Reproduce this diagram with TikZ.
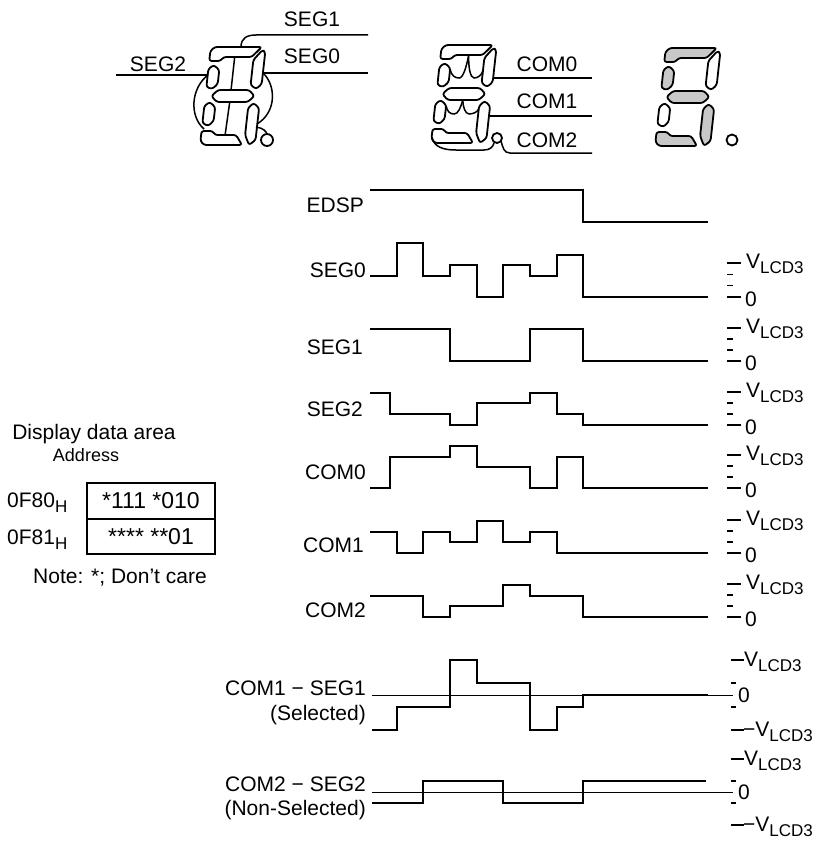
\documentclass[tikz,border=0pt]{standalone}
\usepackage{fontspec}
\setmainfont{Liberation Sans}
\definecolor{seggray}{RGB}{200,200,200}
% V_LCD3 with lowered subscript
\newcommand\vlcd{V\raisebox{-0.28em}{\fontsize{17}{17}\selectfont LCD3}}
\newcommand\hsub{\raisebox{-0.28em}{\fontsize{17}{17}\selectfont H}}
% one slanted seven-segment digit; #1 origin (bottom left), #2 fill of a f g c d, #3 fill of b e
\newcommand\lcddigit[3]{%
  \begin{scope}[cm={1,0,-0.11,-1,(#1)}]
    \draw[segline,fill=#2] (0,84) -- (0,94) -- (4,98) -- (51,98) -- (42,88) -- (14,88) -- (11,84) -- cycle;
    \draw[segline,fill=#3] (44,60) -- (44,85) -- (52,95) -- (55,93) -- (55,61) -- (50,56) -- cycle;
    \draw[segline,fill=#2] (0,58) -- (0,76) -- (5,80) -- (11,75) -- (11,61) -- (6,56) -- cycle;
    \draw[segline,fill=#2] (6,49) -- (12,55) -- (43,55) -- (49,49) -- (43,43) -- (12,43) -- cycle;
    \draw[segline,fill=#3] (0,22) -- (0,39) -- (5,43) -- (11,38) -- (11,24) -- (6,19) -- cycle;
    \draw[segline,fill=#2] (44,10) -- (44,37) -- (49,42) -- (55,37) -- (55,5) -- (49,0) -- cycle;
    \draw[segline,fill=#2] (0,14) -- (0,4) -- (4,0) -- (42,0) -- (35,10) -- (14,10) -- (11,14) -- cycle;
  \end{scope}}
% level marks on the right of a waveform; #1 name, #2 top level, #3 zero level
\newcommand\levelticks[3]{%
  \draw[tick] (727,#2) -- (741,#2);
  \draw[tick] (727,{#2+(#3-#2)/3}) -- (733,{#2+(#3-#2)/3});
  \draw[tick] (727,{#2+2*(#3-#2)/3}) -- (733,{#2+2*(#3-#2)/3});
  \draw[tick] (727,#3) -- (741,#3);
  \node[lab,anchor=base west] (#1v) at (746,{#2+5}) {\vlcd};
  \node[lab,anchor=base west] (#1z) at (745,{#3+9}) {0};}
\begin{document}
\begin{tikzpicture}[x=1pt,y=-1pt,
  lab/.style={font=\fontsize{21}{24}\selectfont, inner sep=0pt},
  small/.style={font=\fontsize{18}{21}\selectfont, inner sep=0pt},
  cell/.style={font=\fontsize{23}{26}\selectfont, inner sep=0pt},
  segline/.style={draw, line width=1.8pt, rounded corners=2.4pt, line join=round},
  wire/.style={line width=1.5pt},
  wave/.style={line width=2.4pt, line join=miter},
  thinline/.style={line width=1pt},
  tick/.style={line width=1.2pt},
  boxline/.style={line width=1.6pt}]
\useasboundingbox (0,0) rectangle (823,843);

% ---------- segment digits ----------
\lcddigit{200,145}{white}{white}
\lcddigit{431,143}{white}{white}
\lcddigit{655,146}{seggray}{white}
\draw[line width=1.8pt] (267,140) circle (6);
\draw[line width=1.8pt] (497,138) circle (5);
\draw[line width=1.8pt] (732,140) circle (5.5);

% segment wiring, SEG side
\begin{scope}[cm={1,0,-0.11,-1,(200,145)}]
  \draw[wire] (25,88) -- (25,55);
  \draw[wire] (25,43) -- (24,10);
\end{scope}
\draw[wire] (116,75) -- (208,75);
\draw[wire] (208,75) .. controls (191,88) and (189,116) .. (204,129);
\draw[wire] (241,47) .. controls (241,38) and (247,35) .. (256,35) -- (368,35);
\draw[wire] (263,73) -- (368,73);
\draw[wire] (263,73) .. controls (276,85) and (277,112) .. (257,124);
\draw[wire] (256,127) .. controls (263,128) and (266,131) .. (267,134);
\node[lab] (seg1lbl) at (312,19) {SEG1};
\node[lab] (seg0lbl) at (312,56) {SEG0};
\node[lab] (seg2lbl) at (158,64) {SEG2};

% segment wiring, COM side
\begin{scope}[cm={1,0,-0.11,-1,(431,143)}]
  \draw[wire] (11,74) .. controls (13,67) and (17,65) .. (21,65) .. controls (25,65) and (27,76) .. (28,88);
  \draw[wire] (28,88) .. controls (29,76) and (32,65) .. (36,65) .. controls (40,65) and (43,68) .. (44,72);
  \draw[wire] (11,37) .. controls (13,31) and (16,29) .. (20,29) .. controls (24,29) and (26,36) .. (27,43);
  \draw[wire] (27,43) .. controls (28,36) and (31,29) .. (35,29) .. controls (39,29) and (43,31) .. (44,34);
\end{scope}
\draw[wire] (493,78) -- (592,78);
\draw[wire] (489,116) -- (592,116);
\draw[wire] (432,137) .. controls (434,147) and (443,150) .. (456,150) -- (484,150) .. controls (490,150) and (493,147) .. (494,143);
\draw[wire] (501,141) .. controls (503,148) and (504,153) .. (510,153) -- (592,153);
\node[lab] (com0lbl) at (547,64) {COM0};
\node[lab] (com1lbl) at (547,101) {COM1};
\node[lab] (com2lbl) at (547,140) {COM2};

% ---------- display data area ----------
\node[lab] (dda) at (94,434) {Display data area};
\node[small] (addr) at (86,455) {Address};
\node[lab,anchor=base west] (adr0) at (7,507) {0F80\hsub};
\node[lab,anchor=base west] (adr1) at (7,544) {0F81\hsub};
\draw[boxline] (87,483) rectangle (215,554);
\draw[boxline] (87,519) -- (215,519);
\node[cell] (dat0) at (151,501) {*111 *010};
\node[cell] (dat1) at (151,537) {**** **01};
\node[lab] (note) at (120,578) {Note: *; Don’t care};

% ---------- waveforms ----------
\node[lab,anchor=east] (wedsp) at (364,205) {EDSP};
\node[lab,anchor=east] (wseg0) at (366,270) {SEG0};
\node[lab,anchor=east] (wseg1) at (363,347) {SEG1};
\node[lab,anchor=east] (wseg2) at (363,409) {SEG2};
\node[lab,anchor=east] (wcom0) at (366,472) {COM0};
\node[lab,anchor=east] (wcom1) at (364,545) {COM1};
\node[lab,anchor=east] (wcom2) at (366,610) {COM2};

\draw[wave] (370,190) -- (583,190) -- (583,222) -- (708,222);
\draw[wave] (370,276) -- (397,276) -- (397,243) -- (423,243) -- (423,276) -- (450,276) -- (450,265) -- (477,265) -- (477,297) -- (503,297) -- (503,265) -- (530,265) -- (530,276) -- (557,276) -- (557,255) -- (583,255) -- (583,297) -- (708,297);
\draw[wave] (370,329) -- (450,329) -- (450,361) -- (530,361) -- (530,329) -- (583,329) -- (583,361) -- (708,361);
\draw[wave] (370,393) -- (390,393) -- (390,414) -- (450,414) -- (450,425) -- (477,425) -- (477,403) -- (530,403) -- (530,393) -- (557,393) -- (557,414) -- (583,414) -- (583,425) -- (708,425);
\draw[wave] (370,488) -- (390,488) -- (390,457) -- (450,457) -- (450,446) -- (477,446) -- (477,467) -- (530,467) -- (530,488) -- (557,488) -- (557,457) -- (583,457) -- (583,488) -- (708,488);
\draw[wave] (370,532) -- (397,532) -- (397,553) -- (423,553) -- (423,532) -- (450,532) -- (450,542) -- (477,542) -- (477,521) -- (503,521) -- (503,542) -- (530,542) -- (530,532) -- (557,532) -- (557,553) -- (708,553);
\draw[wave] (370,596) -- (423,596) -- (423,617) -- (450,617) -- (450,606) -- (503,606) -- (503,585) -- (530,585) -- (530,596) -- (583,596) -- (583,617) -- (708,617);

\levelticks{ls0}{263}{297}
\levelticks{ls1}{328}{361}
\levelticks{ls2}{392}{425}
\levelticks{lc0}{455}{488}
\levelticks{lc1}{520}{553}
\levelticks{lc2}{584}{617}

% ---------- difference waveforms ----------
\node[lab,anchor=east] (d1a) at (366,688) {COM1 − SEG1};
\node[lab,anchor=east] (d1b) at (366,715) {(Selected)};
\draw[thinline] (372,695) -- (733,695);
\draw[wave] (372,730) -- (397,730) -- (397,707) -- (450,707) -- (450,660) -- (477,660) -- (477,683) -- (530,683) -- (530,730) -- (557,730) -- (557,707) -- (583,707) -- (583,695) -- (708,695);
\draw[tick] (731,660) -- (744,660);
\draw[tick] (731,683) -- (736,683);
\draw[tick] (731,707) -- (736,707);
\draw[tick] (731,730) -- (744,730);
\node[lab,anchor=base west] (d1v) at (744,666) {\vlcd};
\node[lab,anchor=base west] (d1z) at (738,702) {0};
\node[lab,anchor=base west] (d1n) at (743,736) {−\vlcd};

\node[lab,anchor=east] (d2a) at (366,784) {COM2 − SEG2};
\node[lab,anchor=east] (d2b) at (366,810) {(Non-Selected)};
\draw[thinline] (372,792) -- (733,792);
\draw[wave] (372,803) -- (423,803) -- (423,781) -- (503,781) -- (503,803) -- (583,803) -- (583,781) -- (706,781);
\draw[tick] (731,759) -- (744,759);
\draw[tick] (731,781) -- (736,781);
\draw[tick] (731,803) -- (736,803);
\draw[tick] (731,825) -- (744,825);
\node[lab,anchor=base west] (d2v) at (744,765) {\vlcd};
\node[lab,anchor=base west] (d2z) at (738,799) {0};
\node[lab,anchor=base west] (d2n) at (743,831) {−\vlcd};
\end{tikzpicture}
\end{document}
